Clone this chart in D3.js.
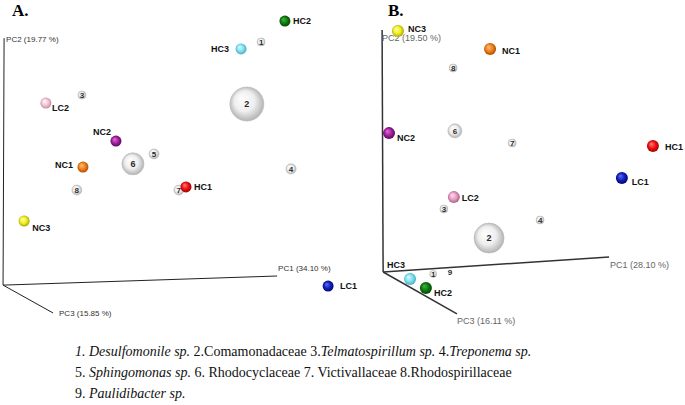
<!DOCTYPE html>
<meta charset="utf-8">
<script src="https://d3js.org/d3.v7.min.js"></script>
<style>
  body { margin: 0; background: #fff; }
  svg { display: block; }
</style>
<body>
<div id="chart"></div>
<script>
// samples (same order in both panels)
var sampleNames = ["HC1", "HC2", "HC3", "LC1", "LC2", "NC1", "NC2", "NC3"];

// panel A, projected PCoA coordinates (0-100 view units)
var aSampleX = [54.7, 83.8, 70.9, 96.5, 13.5, 24.4, 34.1, 7.1];
var aSampleY = [41.6, 93.4, 84.7, 10.6, 67.8, 47.8, 55.9, 30.9];
var aTaxaIds = [1, 2, 3, 4, 5, 6, 7, 8];
var aTaxaX = [76.8, 72.6, 24.1, 85.6, 45.3, 39.1, 52.6, 22.6];
var aTaxaY = [86.9, 67.5, 70.3, 47.2, 51.9, 48.8, 40.6, 40.6];
var aTaxaAbund = [5.5, 100, 5.5, 9, 8.5, 42, 8.5, 8.5];
var aAxisLabels = ["PC1 (34.10 %)", "PC2 (19.77 %)", "PC3 (15.85 %)"];
// origin, PC1 end, PC2 end, PC3 end
var aAxisX = [0.9, 81.5, 1.2, 15.6];
var aAxisY = [10.9, 13.75, 88.1, 2.2];

// panel B
var bSampleX = [90.7, 24.9, 20.3, 81.7, 33.0, 43.5, 14.2, 16.8];
var bSampleY = [54.4, 10.0, 12.8, 44.4, 38.4, 84.7, 58.4, 90.3];
var bTaxaIds = [1, 2, 3, 4, 6, 7, 8, 9];
var bTaxaX = [27.0, 43.2, 30.1, 58.0, 33.3, 49.9, 32.8, 31.9];
var bTaxaY = [14.4, 25.6, 34.7, 31.25, 59.1, 55.3, 78.75, 15.0];
var bTaxaAbund = [4.2, 78, 5.5, 5.5, 17, 5.5, 5.5, 0];
var bAxisLabels = ["PC1 (28.10 %)", "PC2 (19.50 %)", "PC3 (16.11 %)"];
var bAxisX = [12.5, 78.0, 12.2, 33.9];
var bAxisY = [15.0, 19.7, 90.6, 1.9];

// caption: [text, italic]
var captionLines = [
  [["1. Desulfomonile sp.", true], [" 2.Comamonadaceae 3.", false], ["Telmatospirillum sp.", true], [" 4.", false], ["Treponema sp.", true]],
  [["5. ", false], ["Sphingomonas sp.", true], [" 6. Rhodocyclaceae 7. Victivallaceae 8.Rhodospirillaceae", false]],
  [["9. ", false], ["Paulidibacter sp.", true]]
];

var colors = {
  HC1: ["#ff8080", "#f01010", "#900000"],
  HC2: ["#50b050", "#0b7d0b", "#003a00"],
  HC3: ["#e0fbff", "#80dff0", "#3fa5b8"],
  LC1: ["#6070f0", "#1020c0", "#000060"],
  LC2: ["#ffffff", "#f2c4d6", "#b98096"],
  NC1: ["#ffc080", "#f07f1a", "#9a4600"],
  NC2: ["#e070e0", "#a0209a", "#500050"],
  NC3: ["#ffffb0", "#f0ee20", "#9a9800"]
};
var colorsB = Object.assign({}, colors, { LC2: ["#ffe0ee", "#e69ac0", "#a05478"] });

var width = 685, height = 405;
var svg = d3.select("#chart").append("svg")
  .attr("width", width)
  .attr("height", height);

var defs = svg.append("defs");
function grad(id, c) {
  var g = defs.append("radialGradient").attr("id", id)
    .attr("cx", "50%").attr("cy", "50%").attr("r", "55%")
    .attr("fx", "35%").attr("fy", "32%");
  g.append("stop").attr("offset", "0%").attr("stop-color", c[0]);
  g.append("stop").attr("offset", "55%").attr("stop-color", c[1]);
  g.append("stop").attr("offset", "100%").attr("stop-color", c[2]);
}
Object.keys(colors).forEach(function (k) { grad("gA" + k, colors[k]); });
Object.keys(colorsB).forEach(function (k) { grad("gB" + k, colorsB[k]); });
grad("gWhite", ["#ffffff", "#eeeeee", "#a9a9a9"]);

var size = d3.scaleSqrt().domain([0, 100]).range([0, 17]);

var labelPosA = {
  HC1: [8, 3, "start"], HC2: [8, 3, "start"], HC3: [-12, 3, "end"], LC1: [12, 3, "start"],
  LC2: [6, 8, "start"], NC1: [-10, 1, "end"], NC2: [-5, -6, "end"], NC3: [8, 10, "start"]
};
var labelPosB = {
  HC1: [12, 4, "start"], HC2: [8, 8, "start"], HC3: [-5, -11, "end"], LC1: [10, 7, "start"],
  LC2: [8, 4, "start"], NC1: [12, 5, "start"], NC2: [8, 8, "start"], NC3: [10, 1, "start"]
};

function drawPanel(opt) {
  var x = d3.scaleLinear().domain([0, 100]).range(opt.xRange);
  var y = d3.scaleLinear().domain([0, 100]).range([320, 0]);
  var g = svg.append("g");

  // 3D axes
  [1, 2, 3].forEach(function (i) {
    g.append("line")
      .attr("x1", x(opt.axisX[0])).attr("y1", y(opt.axisY[0]))
      .attr("x2", x(opt.axisX[i])).attr("y2", y(opt.axisY[i]))
      .attr("stroke", opt.axisColor)
      .attr("stroke-width", opt.axisWidth);
  });
  opt.axisLabels.forEach(function (t, i) {
    g.append("text")
      .attr("x", x(opt.axisX[i + 1]) + opt.axisLabelOff[i][0])
      .attr("y", y(opt.axisY[i + 1]) + opt.axisLabelOff[i][1])
      .attr("font-family", "Liberation Sans, Arial, sans-serif")
      .attr("font-size", opt.axisFont)
      .attr("fill", opt.axisTextColor)
      .text(t);
  });

  // taxa spheres
  var taxa = opt.taxaIds.map(function (id, i) {
    return { id: id, x: opt.taxaX[i], y: opt.taxaY[i], a: opt.taxaAbund[i] };
  });
  var tg = g.selectAll(".taxon").data(taxa).enter().append("g")
    .attr("transform", function (d) { return "translate(" + x(d.x) + "," + y(d.y) + ")"; });
  tg.append("circle")
    .attr("r", function (d) { return size(d.a); })
    .attr("fill", "url(#gWhite)")
    .attr("stroke", "#b8b8b8")
    .attr("stroke-width", 0.6);
  tg.append("text")
    .attr("text-anchor", "middle")
    .attr("dy", "0.35em")
    .attr("font-family", "Liberation Sans, Arial, sans-serif")
    .attr("font-weight", "bold")
    .attr("font-size", function (d) { return d.a > 30 ? 9 : 8; })
    .attr("fill", "#2a2a2a")
    .text(function (d) { return d.id; });

  // samples
  var samples = sampleNames.map(function (n, i) {
    return { name: n, x: opt.sampleX[i], y: opt.sampleY[i] };
  });
  var sg = g.selectAll(".sample").data(samples).enter().append("g")
    .attr("transform", function (d) { return "translate(" + x(d.x) + "," + y(d.y) + ")"; });
  sg.append("circle")
    .attr("r", opt.sampleR)
    .attr("fill", function (d) { return "url(#" + opt.gradPrefix + d.name + ")"; });
  sg.append("text")
    .attr("x", function (d) { return opt.labelPos[d.name][0]; })
    .attr("y", function (d) { return opt.labelPos[d.name][1]; })
    .attr("text-anchor", function (d) { return opt.labelPos[d.name][2]; })
    .attr("font-family", "Liberation Sans, Arial, sans-serif")
    .attr("font-weight", "bold")
    .attr("font-size", 9)
    .attr("fill", "#111")
    .text(function (d) { return d.name; });

  // panel letter
  svg.append("text")
    .attr("x", opt.letterX).attr("y", 16)
    .attr("font-family", "Liberation Serif, Times New Roman, serif")
    .attr("font-weight", "bold")
    .attr("font-size", 17)
    .text(opt.letter);
}

drawPanel({
  letter: "A.", letterX: 12, xRange: [0, 340],
  sampleX: aSampleX, sampleY: aSampleY,
  taxaIds: aTaxaIds, taxaX: aTaxaX, taxaY: aTaxaY, taxaAbund: aTaxaAbund,
  axisX: aAxisX, axisY: aAxisY, axisLabels: aAxisLabels,
  axisLabelOff: [[1, -5], [2, 4], [6, 3]],
  axisColor: "#222", axisWidth: 1, axisFont: 8, axisTextColor: "#333",
  sampleR: 5.5, gradPrefix: "gA", labelPos: labelPosA
});

drawPanel({
  letter: "B.", letterX: 388, xRange: [340, 685],
  sampleX: bSampleX, sampleY: bSampleY,
  taxaIds: bTaxaIds, taxaX: bTaxaX, taxaY: bTaxaY, taxaAbund: bTaxaAbund,
  axisX: bAxisX, axisY: bAxisY, axisLabels: bAxisLabels,
  axisLabelOff: [[1, 11], [0, 11], [0, 10]],
  axisColor: "#333", axisWidth: 1.5, axisFont: 9, axisTextColor: "#666",
  sampleR: 6, gradPrefix: "gB", labelPos: labelPosB
});

// caption
var cap = svg.append("g")
  .attr("font-family", "Liberation Serif, Times New Roman, serif")
  .attr("font-size", 14)
  .attr("fill", "#111");
captionLines.forEach(function (parts, i) {
  var t = cap.append("text")
    .attr("x", 75)
    .attr("y", 356 + i * 21)
    .attr("xml:space", "preserve");
  parts.forEach(function (p) {
    t.append("tspan")
      .attr("font-style", p[1] ? "italic" : "normal")
      .text(p[0]);
  });
});
</script>
</body>
